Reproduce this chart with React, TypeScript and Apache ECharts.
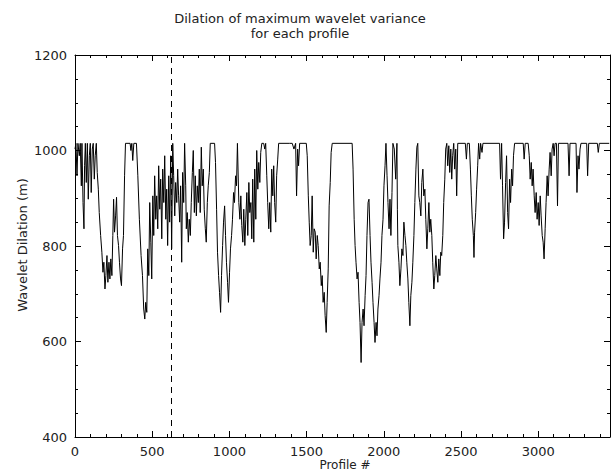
import React, { useEffect, useRef } from "react";
import * as echarts from "echarts";

// Profile # / wavelet dilation (m) pairs, by section
const section0to700: [number, number][] = [
  [0,1003],[6,1015],[13,947],[19,1015],[28,989],[34,1015],[41,926],[45,1015],[52,891],[58,836],
  [62,968],[67,1015],[73,933],[80,1015],[86,898],[93,989],[99,1015],[105,912],[112,1003],[118,1015],
  [125,940],[131,989],[138,1015],[144,954],[151,919],[157,870],[166,822],[174,787],[181,745],[187,766],
  [194,710],[200,738],[207,780],[213,724],[220,766],[226,731],[232,773],[239,738],[245,822],[250,898],
  [256,829],[263,863],[269,902],[275,822],[282,801],[288,766],[295,731],[301,717],[308,794],[314,822],
  [321,947],[327,1015],[357,1015],[362,1000],[368,1015],[374,979],[381,1015],[398,1015],[407,947],[417,856],
  [428,780],[437,738],[445,668],[452,647],[458,682],[465,661],[471,794],[478,738],[484,891],[491,808],
  [497,731],[504,905],[510,822],[516,947],[523,856],[529,905],[536,836],[542,968],[549,877],[555,940],
  [562,815],[568,961],[575,891],[581,989],[588,856],[594,919],[600,801],[607,947],[613,850],[620,989],
  [626,794],[633,1015],[639,947],[646,863],[652,933],[659,891],[665,961],[671,905],[678,850],[684,926],
  [691,766]
];
const section700to1400: [number, number][] = [
  [697,954],[704,891],[710,1015],[717,926],[721,836],[727,870],[734,808],[740,856],[747,822],[753,891],
  [760,954],[766,1000],[773,870],[779,947],[786,863],[792,926],[799,891],[805,961],[811,870],[818,1007],
  [824,926],[831,961],[837,877],[844,836],[850,808],[857,891],[863,926],[870,954],[876,1015],[904,1015],
  [910,975],[917,877],[923,787],[930,738],[936,703],[943,661],[949,738],[956,801],[962,850],[969,884],
  [975,822],[981,766],[988,724],[994,682],[1001,745],[1007,794],[1014,822],[1020,856],[1027,912],[1033,891],
  [1040,947],[1046,926],[1052,1015],[1061,891],[1068,856],[1074,905],[1080,843],[1087,808],[1093,877],[1100,801],
  [1106,856],[1113,912],[1119,822],[1126,933],[1132,870],[1139,891],[1145,815],[1151,940],[1158,808],[1164,961],
  [1171,856],[1177,1000],[1184,919],[1190,975],[1197,933],[1203,996],[1210,1015],[1222,1015],[1229,1003],[1235,1015],
  [1242,947],[1248,891],[1255,836],[1261,891],[1268,829],[1274,961],[1281,905],[1287,968],[1293,891],[1300,850],
  [1306,947],[1313,982],[1319,1015],[1388,1015]
];
const section1400to2090: [number, number][] = [
  [1407,1015],[1418,1003],[1429,1015],[1435,905],[1442,1003],[1448,968],[1455,1015],[1498,1015],[1504,989],[1511,905],
  [1517,850],[1523,801],[1530,822],[1536,905],[1543,787],[1549,836],[1556,829],[1562,773],[1569,822],[1575,801],
  [1582,752],[1588,766],[1595,717],[1601,738],[1607,682],[1614,703],[1620,654],[1627,619],[1633,682],[1640,752],
  [1646,884],[1653,933],[1659,996],[1666,1015],[1795,1015],[1801,961],[1808,856],[1814,801],[1820,766],[1827,731],
  [1833,745],[1840,682],[1846,640],[1853,556],[1859,640],[1866,668],[1872,633],[1879,696],[1885,738],[1891,822],
  [1898,891],[1904,898],[1911,822],[1917,766],[1924,724],[1930,682],[1937,640],[1943,598],[1950,640],[1956,612],
  [1962,668],[1969,696],[1975,731],[1982,766],[1988,822],[1995,856],[2001,926],[2008,968],[2014,1015],[2021,947],
  [2027,891],[2034,836],[2040,898],[2046,822],[2053,912],[2059,1015],[2068,1003],[2077,940],[2085,1015]
];
const section2090to2780: [number, number][] = [
  [2088,877],[2091,801],[2098,766],[2104,717],[2111,752],[2117,794],[2124,780],[2130,850],[2137,822],[2143,801],
  [2149,766],[2156,731],[2162,682],[2169,633],[2175,696],[2182,724],[2188,766],[2195,822],[2201,891],[2208,961],
  [2214,1007],[2220,1015],[2227,905],[2233,891],[2240,863],[2246,933],[2253,961],[2259,905],[2266,919],[2272,856],
  [2279,794],[2285,836],[2292,891],[2298,829],[2304,856],[2311,822],[2317,766],[2324,710],[2330,738],[2337,780],
  [2343,752],[2350,724],[2356,773],[2363,738],[2369,787],[2375,780],[2382,822],[2388,891],[2395,940],[2401,1003],
  [2408,1015],[2414,968],[2421,1010],[2427,954],[2434,1003],[2440,940],[2446,989],[2453,1015],[2459,961],[2466,1003],
  [2472,905],[2479,1015],[2528,1015],[2535,982],[2541,1015],[2554,1015],[2561,961],[2567,905],[2573,856],[2580,822],
  [2584,776],[2588,829],[2595,870],[2601,919],[2608,968],[2614,1015],[2621,982],[2627,1015],[2636,996],[2642,1015],
  [2750,1015],[2756,940],[2763,1015],[2769,926],[2776,815]
];
const section2780toEnd: [number, number][] = [
  [2782,850],[2789,933],[2795,989],[2802,870],[2808,836],[2815,940],[2821,891],[2828,961],[2834,926],[2840,989],
  [2847,1015],[2903,1015],[2909,982],[2916,1015],[2935,1015],[2942,989],[2948,940],[2955,975],[2961,926],[2967,961],
  [2974,905],[2980,870],[2987,912],[2993,856],[3000,891],[3006,843],[3013,905],[3019,863],[3026,822],[3032,808],
  [3038,773],[3045,836],[3051,891],[3058,947],[3064,905],[3071,961],[3077,996],[3084,947],[3090,1003],[3097,1015],
  [3103,989],[3109,1015],[3118,1015],[3125,884],[3131,1015],[3193,1015],[3200,947],[3206,1015],[3245,1015],[3251,912],
  [3258,989],[3264,961],[3271,1003],[3277,1015],[3314,1015],[3320,947],[3327,1015],[3383,1015],[3389,996],[3396,1015],
  [3460,1015]
];

const markedProfile = 625;
const xMax = 3465;
const yMin = 400;
const yMax = 1200;

const titleLines = ["Dilation of maximum wavelet variance", "for each profile"];
const xName = "Profile #";
const yName = "Wavelet Dilation (m)";

const FONT = "DejaVu Sans";
const INK = "#222";

export default function App() {
  const ref = useRef<HTMLDivElement>(null);
  useEffect(() => {
    if (!ref.current) return;
    const chart = echarts.init(ref.current, null, { renderer: "svg" });
    const data = [
      ...section0to700,
      ...section700to1400,
      ...section1400to2090,
      ...section2090to2780,
      ...section2780toEnd,
    ];
    const axisLine = { show: true, onZero: false, lineStyle: { color: "#000", width: 1 } };
    const major = (pos: string, labels: boolean) => ({
      type: "value",
      position: pos,
      min: 0,
      max: xMax,
      interval: 500,
      axisLine,
      axisTick: { show: true, inside: true, length: 6, lineStyle: { color: "#000", width: 1 } },
      axisLabel: labels
        ? {
            show: true,
            margin: 8,
            color: INK,
            fontFamily: FONT,
            fontSize: 13,
            formatter: (v: number) => (v % 500 === 0 ? String(v) : ""),
          }
        : { show: false },
      splitLine: { show: false },
    });
    const minor = (pos: string) => ({
      type: "value",
      position: pos,
      min: 0,
      max: xMax,
      interval: 100,
      axisLine: { show: false },
      axisTick: { show: true, inside: true, length: 3, lineStyle: { color: "#000", width: 1 } },
      axisLabel: { show: false },
      splitLine: { show: false },
    });
    const yAx = (pos: string, labels: boolean) => ({
      type: "value",
      position: pos,
      min: yMin,
      max: yMax,
      interval: 200,
      axisLine,
      axisTick: { show: true, inside: true, length: 6, lineStyle: { color: "#000", width: 1 } },
      minorTick: { show: true, splitNumber: 4, length: 3, lineStyle: { color: "#000", width: 1 } },
      axisLabel: labels
        ? { show: true, margin: 8, color: INK, fontFamily: FONT, fontSize: 13, formatter: (v: number) => String(v) }
        : { show: false },
      splitLine: { show: false },
      minorSplitLine: { show: false },
    });
    chart.setOption({
      animation: false,
      backgroundColor: "#fff",
      grid: { left: 75, right: 1, top: 55, bottom: 37, containLabel: false },
      xAxis: [major("bottom", true), minor("bottom"), major("top", false), minor("top")],
      yAxis: [yAx("left", true), yAx("right", false)],
      series: [
        {
          type: "line",
          xAxisIndex: 0,
          yAxisIndex: 0,
          data,
          symbol: "none",
          showSymbol: false,
          lineStyle: { color: "#000", width: 1 },
          markLine: {
            silent: true,
            symbol: ["none", "none"],
            label: { show: false },
            lineStyle: { color: "#000", width: 1, type: [6, 5] },
            data: [{ xAxis: markedProfile }],
          },
        },
      ],
      graphic: [
        {
          type: "text",
          x: 300,
          y: 18,
          style: { text: titleLines[0], align: "center", verticalAlign: "middle", fontFamily: FONT, fontSize: 13, fill: INK },
        },
        {
          type: "text",
          x: 300,
          y: 33,
          style: { text: titleLines[1], align: "center", verticalAlign: "middle", fontFamily: FONT, fontSize: 13, fill: INK },
        },
        {
          type: "text",
          x: 345,
          y: 465,
          style: { text: xName, align: "center", verticalAlign: "middle", fontFamily: FONT, fontSize: 12, fill: INK },
        },
        {
          type: "text",
          x: 22,
          y: 245,
          rotation: Math.PI / 2,
          style: { text: yName, align: "center", verticalAlign: "middle", fontFamily: FONT, fontSize: 13, fill: INK },
        },
      ],
    });
    return () => chart.dispose();
  }, []);
  return (
    <div
      ref={ref}
      style={{ position: "fixed", left: 0, top: 0, width: 613, height: 474, background: "#fff" }}
    />
  );
}
